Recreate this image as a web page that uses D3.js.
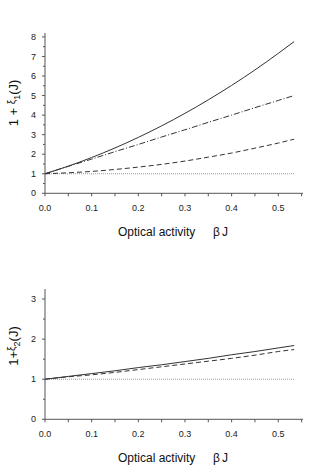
<!DOCTYPE html>
<html>
<head>
<meta charset="UTF-8" />
<script src="https://cdn.jsdelivr.net/npm/d3@7"></script>
<script>
  if (!window.d3) document.write('<script src="https://d3js.org/d3.v7.min.js"><\/script>');
</script>
<script>
  if (!window.d3) document.write('<script src="https://cdnjs.cloudflare.com/ajax/libs/d3/7.8.5/d3.min.js"><\/script>');
</script>
<style>
  body { margin: 0; background: #fff; }
  svg { display: block; font-family: "Liberation Sans", Arial, sans-serif; }
</style>
</head>
<body>
<div id="chart"></div>
<script>
// optical activity values (x) shared by all curves
const bj = [0, 0.05, 0.1, 0.15, 0.2, 0.25, 0.3, 0.35, 0.4, 0.45, 0.5, 0.534];

// top panel: 1 + xi_1(J)
const xi1Solid   = [1, 1.39, 1.83, 2.32, 2.86, 3.45, 4.09, 4.78, 5.52, 6.31, 7.16, 7.76];
const xi1DashDot = [1, 1.38, 1.75, 2.13, 2.5, 2.88, 3.25, 3.63, 4.0, 4.38, 4.75, 5.0];
const xi1Dashed  = [1, 1.05, 1.12, 1.22, 1.34, 1.48, 1.65, 1.85, 2.06, 2.31, 2.57, 2.77];

// bottom panel: 1 + xi_2(J)
const xi2Solid  = [1, 1.07, 1.14, 1.21, 1.29, 1.36, 1.44, 1.52, 1.61, 1.69, 1.78, 1.84];
const xi2Dashed = [1, 1.06, 1.11, 1.17, 1.24, 1.31, 1.38, 1.45, 1.52, 1.6, 1.69, 1.74];

const xTickLabels = ["0.0", "0.1", "0.2", "0.3", "0.4", "0.5"];

const W = 320, H = 466;
const svg = d3.select("#chart").append("svg")
    .attr("width", W)
    .attr("height", H);

const axisColor = "#555";
const lineColor = "#333";

const x = d3.scaleLinear().domain([0, 0.553]).range([45, 303]);

function panel(opts) {
    const y = d3.scaleLinear().domain([0, opts.yMax]).range([opts.y0, opts.yTop]);
    const g = svg.append("g");

    // x axis with minor ticks
    const xa = g.append("g").attr("transform", `translate(0,${opts.y0})`);
    xa.append("line").attr("x1", x(0)).attr("x2", x(0.553))
        .attr("stroke", axisColor);
    xa.selectAll(".mx").data(d3.range(0, 0.551, 0.05)).join("line")
        .attr("x1", d => x(d)).attr("x2", d => x(d))
        .attr("y1", 0).attr("y2", 3)
        .attr("stroke", axisColor);
    xa.selectAll("text").data(xTickLabels).join("text")
        .attr("x", d => x(+d))
        .attr("y", 17.4)
        .attr("text-anchor", "middle")
        .attr("font-size", 9)
        .attr("fill", "#222")
        .text(d => d);

    // y axis
    const ya = g.append("g").attr("transform", `translate(${x(0)},0)`);
    ya.append("line").attr("y1", y(0)).attr("y2", opts.yTop)
        .attr("stroke", axisColor);
    ya.selectAll("line.t").data(d3.range(0, opts.yMax, 0.5)).join("line")
        .attr("class", "t")
        .attr("x1", d => (d % 1 === 0 ? -3 : -2)).attr("x2", 0)
        .attr("y1", d => y(d)).attr("y2", d => y(d))
        .attr("stroke", axisColor);
    ya.selectAll("text").data(opts.yTicks).join("text")
        .attr("x", -9)
        .attr("y", d => y(d))
        .attr("dy", "0.35em")
        .attr("text-anchor", "end")
        .attr("font-size", 9)
        .attr("fill", "#222")
        .text(d => d);

    // reference dotted line at 1
    g.append("line")
        .attr("x1", x(0)).attr("x2", x(0.534))
        .attr("y1", y(1)).attr("y2", y(1))
        .attr("stroke", "#999")
        .attr("stroke-dasharray", "1,1");

    const line = d3.line()
        .x((d, i) => x(bj[i]))
        .y(d => y(d))
        .curve(d3.curveMonotoneX);

    opts.series.forEach(s => {
        g.append("path")
            .datum(s.values)
            .attr("fill", "none")
            .attr("stroke", lineColor)
            .attr("stroke-width", 1)
            .attr("stroke-dasharray", s.dash)
            .attr("d", line);
    });

    // axis titles
    const xt = g.append("text")
        .attr("x", 118)
        .attr("y", opts.y0 + 42.7)
        .attr("font-size", 12)
        .attr("fill", "#111");
    xt.append("tspan").text("Optical activity");
    xt.append("tspan").attr("x", 213).text("β");
    xt.append("tspan").attr("dx", 2).text("J");

    const yt = g.append("text")
        .attr("transform", `translate(17.5,${opts.yLabelY}) rotate(-90)`)
        .attr("text-anchor", "middle")
        .attr("font-size", 13)
        .attr("fill", "#111");
    yt.append("tspan").text(opts.yPrefix);
    yt.append("tspan").attr("font-size", 10).attr("dy", -3).text("ξ");
    yt.append("tspan").attr("font-size", 9).attr("dy", 5).text(opts.sub);
    yt.append("tspan").attr("dy", -2).text("(J)");
}

panel({
    y0: 193.3, yTop: 33, yMax: 8.2,
    yTicks: [0, 1, 2, 3, 4, 5, 6, 7, 8],
    yLabelY: 103, yPrefix: "1 + ", sub: "1",
    series: [
        { values: xi1Solid, dash: null },
        { values: xi1DashDot, dash: "6,2,1,2" },
        { values: xi1Dashed, dash: "5,3" }
    ]
});

panel({
    y0: 419.3, yTop: 289, yMax: 3.25,
    yTicks: [0, 1, 2, 3],
    yLabelY: 346, yPrefix: "1+", sub: "2",
    series: [
        { values: xi2Solid, dash: null },
        { values: xi2Dashed, dash: "5,3" }
    ]
});
</script>
</body>
</html>
